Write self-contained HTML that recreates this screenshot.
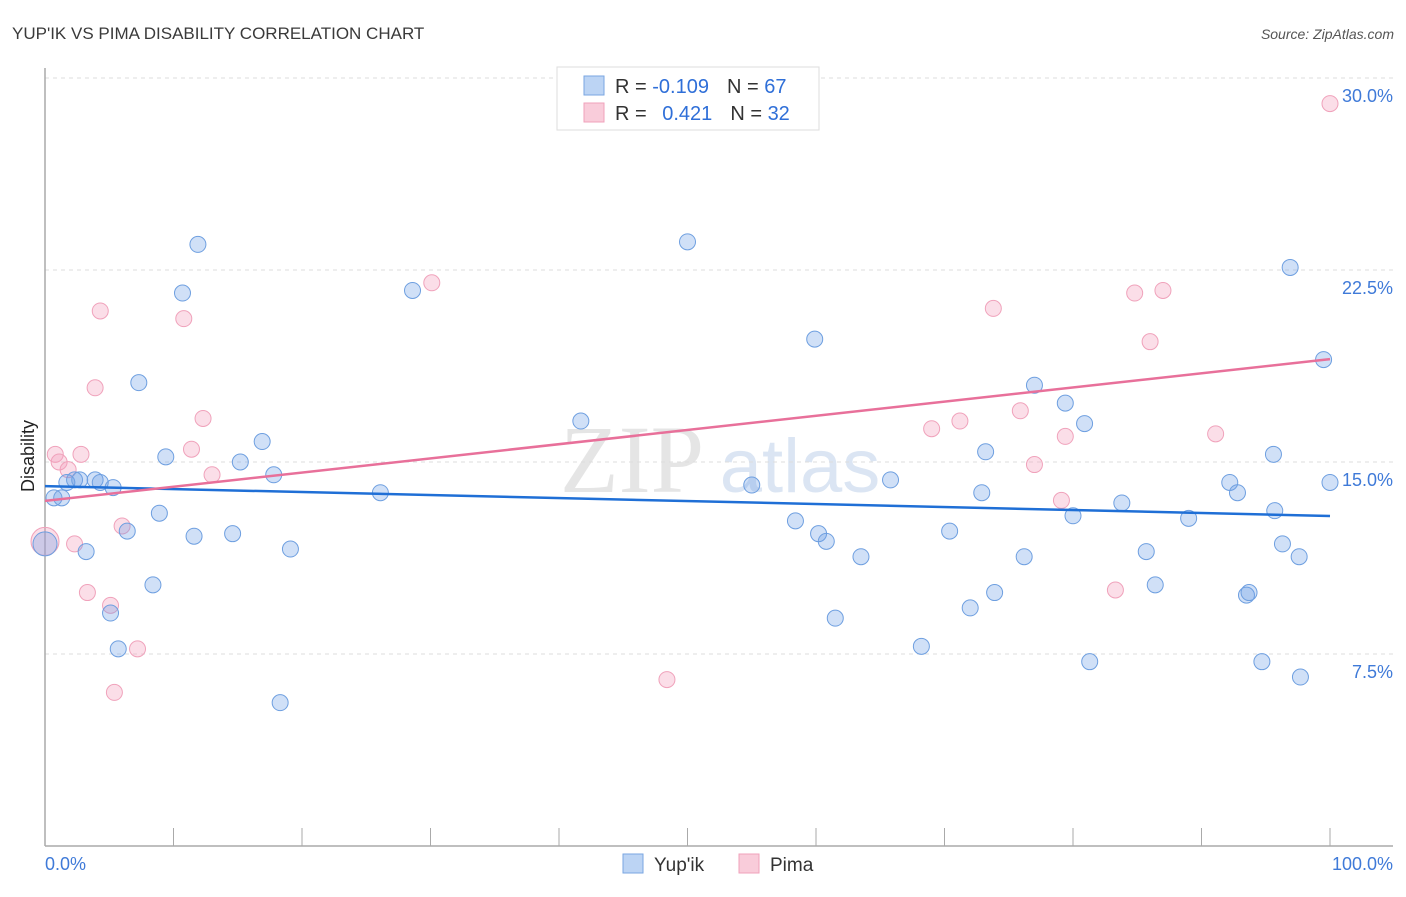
<!DOCTYPE html>
<html><head><meta charset="utf-8"><style>
body{margin:0;background:#fff;font-family:"Liberation Sans",sans-serif;}
</style></head><body>
<svg id="chart" width="1406" height="892" xmlns="http://www.w3.org/2000/svg" font-family="Liberation Sans, sans-serif">
<text x="12" y="39" font-size="17" fill="#3a3a3a">YUP'IK VS PIMA DISABILITY CORRELATION CHART</text>
<text x="1394" y="39" font-size="14" font-style="italic" fill="#555" text-anchor="end">Source: ZipAtlas.com</text>
<g opacity="0.5">
<text x="632" y="492" font-family="Liberation Serif, serif" font-size="96" fill="#ccc" text-anchor="middle">ZIP</text>
<text x="800" y="492" font-size="76" fill="#b8cde8" text-anchor="middle">atlas</text>
</g>
<g id="grid"></g>
<g id="axes"></g>
<g id="marks"></g>
<text transform="translate(34,456) rotate(-90)" font-size="18" fill="#222" text-anchor="middle">Disability</text>
<text x="45" y="870" font-size="18" fill="#3f7ad8">0.0%</text>
<text x="1393" y="870" font-size="18" fill="#3f7ad8" text-anchor="end">100.0%</text>
<g>
<rect x="557" y="67" width="262" height="63" fill="#fff" stroke="#ddd"/>
<rect x="584" y="76" width="20" height="19" fill="#bcd4f4" stroke="#7aa6e2"/>
<rect x="584" y="103" width="20" height="19" fill="#f9ccda" stroke="#f0a2bb"/>
<text x="615" y="93" font-size="20" fill="#333">R = <tspan fill="#2f6fd8">-0.109</tspan><tspan dx="18">N = </tspan><tspan fill="#2f6fd8">67</tspan></text>
<text x="615" y="120" font-size="20" fill="#333">R = <tspan fill="#2f6fd8" dx="10">0.421</tspan><tspan dx="18">N = </tspan><tspan fill="#2f6fd8">32</tspan></text>
</g>
<g>
<rect x="623" y="854" width="20" height="19" fill="#bcd4f4" stroke="#7aa6e2"/>
<text x="654" y="871" font-size="19" fill="#333">Yup'ik</text>
<rect x="739" y="854" width="20" height="19" fill="#f9ccda" stroke="#f0a2bb"/>
<text x="770" y="871" font-size="19" fill="#333">Pima</text>
</g>
</svg>
<script>
const yTicks=[7.5,15,22.5,30];
const yTickLabels=["7.5%","15.0%","22.5%","30.0%"];
const blueX=[0.7,1.3,1.7,2.3,2.7,3.9,4.3,5.3,3.2,5.1,5.7,6.4,7.3,8.4,8.9,9.4,10.7,11.6,11.9,14.6,15.2,16.9,17.8,18.3,19.1,26.1,28.6,41.7,50.0,55.0,58.4,59.9,60.2,60.8,61.5,63.5,65.8,68.2,70.4,72.0,72.9,73.2,73.9,76.2,77.0,79.4,80.0,80.9,81.3,83.8,85.7,86.4,89.0,92.2,92.8,93.5,93.7,94.7,95.6,95.7,96.3,96.9,97.6,97.7,99.5,100];
const blueY=[13.6,13.6,14.2,14.3,14.3,14.3,14.2,14.0,11.5,9.1,7.7,12.3,18.1,10.2,13.0,15.2,21.6,12.1,23.5,12.2,15.0,15.8,14.5,5.6,11.6,13.8,21.7,16.6,23.6,14.1,12.7,19.8,12.2,11.9,8.9,11.3,14.3,7.8,12.3,9.3,13.8,15.4,9.9,11.3,18.0,17.3,12.9,16.5,7.2,13.4,11.5,10.2,12.8,14.2,13.8,9.8,9.9,7.2,15.3,13.1,11.8,22.6,11.3,6.6,19.0,14.2];
const pinkX=[0.8,1.1,1.8,2.3,2.8,3.3,3.9,4.3,5.1,5.4,6.0,7.2,10.8,11.4,12.3,13.0,30.1,48.4,69.0,71.2,73.8,75.9,77.0,79.1,79.4,83.3,84.8,86.0,87.0,91.1,100];
const pinkY=[15.3,15.0,14.7,11.8,15.3,9.9,17.9,20.9,9.4,6.0,12.5,7.7,20.6,15.5,16.7,14.5,22.0,6.5,16.3,16.6,21.0,17.0,14.9,13.5,16.0,10.0,21.6,19.7,21.7,16.1,29.0];
const bigX=[0]; const bigBlueY=[11.8]; const bigPinkY=[11.9];
const blueTrend=[14.06,12.89];
const pinkTrend=[13.48,19.02];
const NS="http://www.w3.org/2000/svg";
const sx=v=>45+v*12.85, sy=v=>846-v*25.6;
function mk(t,a,p){const e=document.createElementNS(NS,t);for(const k in a)e.setAttribute(k,a[k]);document.getElementById(p).appendChild(e);return e;}
yTicks.forEach((t,i)=>{
 const g=mk('line',{x1:45,x2:1393,y1:sy(t),y2:sy(t),stroke:'#ddd','stroke-dasharray':'4,4'},'grid');
 
 
 const l=mk('text',{x:1393,y:sy(t)+24,'font-size':18,fill:'#3f7ad8','text-anchor':'end'},'grid');
 l.textContent=yTickLabels[i];
 
 
});
const ya=mk('line',{x1:45,x2:45,y1:68,y2:846,stroke:'#aaa','stroke-width':1.5},'axes');


const xa=mk('line',{x1:45,x2:1393,y1:846,y2:846,stroke:'#aaa','stroke-width':1.5},'axes');


for(let k=0;k<=10;k++){
 const t=mk('line',{x1:sx(k*10),x2:sx(k*10),y1:828,y2:846,stroke:'#aaa'},'axes');
 
 
}
function dot(x,y,r,pink,name){
 const c=mk('circle',{cx:sx(x),cy:sy(y),r:r,fill:pink?'rgba(244,160,188,0.35)':'rgba(110,160,230,0.32)',stroke:pink?'#f0a2bb':'#6e9fe0','stroke-width':1},'marks');
 
 
}
pinkX.forEach((x,i)=>dot(x,pinkY[i],8,true,'pima-point'));
blueX.forEach((x,i)=>dot(x,blueY[i],8,false,'yupik-point'));
dot(bigX[0],bigPinkY[0],14,true,'pima-point');
dot(bigX[0],bigBlueY[0],12,false,'yupik-point');
const bl=mk('line',{x1:sx(0),x2:sx(100),y1:sy(blueTrend[0]),y2:sy(blueTrend[1]),stroke:'#1f6fd6','stroke-width':2.5},'marks');


const pl=mk('line',{x1:sx(0),x2:sx(100),y1:sy(pinkTrend[0]),y2:sy(pinkTrend[1]),stroke:'#e8709a','stroke-width':2.5},'marks');


</script>
</body></html>
